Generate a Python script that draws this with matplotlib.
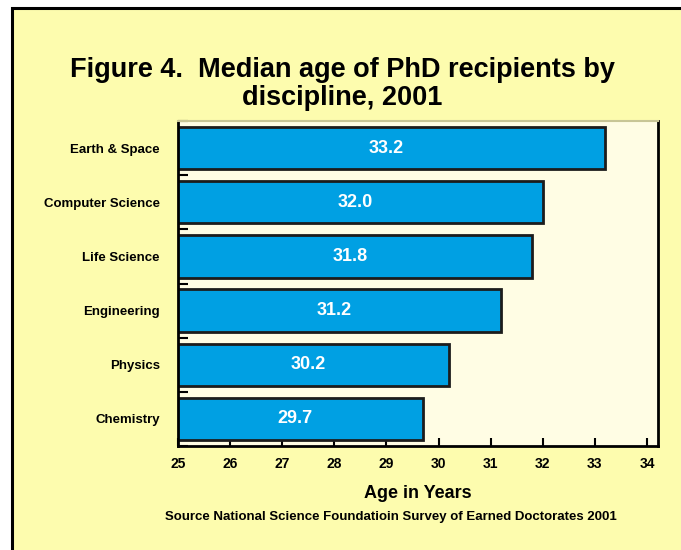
import matplotlib.pyplot as plt
from matplotlib.patches import Rectangle

# values from the 2001 chart, top bar first
disciplines = ['Earth & Space', 'Computer Science', 'Life Science',
               'Engineering', 'Physics', 'Chemistry']
median_age = [33.2, 32.0, 31.8, 31.2, 30.2, 29.7]
age_ticks = [25, 26, 27, 28, 29, 30, 31, 32, 33, 34]

plt.rcParams['font.family'] = ['Liberation Sans', 'DejaVu Sans']
plt.rcParams['font.weight'] = 'bold'

fig = plt.figure(figsize=(6.81, 5.5), dpi=100)
fig.patch.set_facecolor('white')

# yellow panel with black frame, its right and bottom edges run off the page
frame = Rectangle((12 / 681, -0.05), 1.1, 0.05 + (550 - 8) / 550,
                  transform=fig.transFigure, facecolor='#fdfcae',
                  edgecolor='black', linewidth=2.2, zorder=-5)
fig.patches.append(frame)

ax = fig.add_axes([178 / 681, (550 - 446) / 550, (658 - 178) / 681, (446 - 121) / 550])
ax.set_zorder(2)
ax.set_facecolor('#fffde4')

ypos = list(range(len(disciplines)))
bars = ax.barh(ypos, median_age, left=0, height=0.78, color='#00a0e3',
               edgecolor='#1c1c1c', linewidth=2.0, zorder=2)

for y, v in zip(ypos, median_age):
    ax.text((25 + v) / 2 - 0.1, y, f'{v:.1f}', color='white', fontsize=13,
            fontweight='bold', ha='center', va='center', zorder=3)

ax.set_xlim(25, 34.21)
ax.set_ylim(len(disciplines) - 0.5, -0.5)

ax.set_xticks(age_ticks)
ax.set_xticklabels([str(t) for t in age_ticks], fontsize=10, fontweight='bold')
ax.tick_params(axis='x', direction='in', length=6, width=1.5, pad=8)

ax.set_yticks(ypos)
ax.set_yticklabels(disciplines, fontsize=9.5, fontweight='bold')
ax.set_yticks([y - 0.5 for y in range(len(disciplines) + 1)], minor=True)
ax.tick_params(axis='y', which='major', length=0, pad=13)
ax.tick_params(axis='y', which='minor', direction='in', length=7, width=1.5)

for side in ['left', 'bottom', 'right']:
    ax.spines[side].set_linewidth(2.0)
    ax.spines[side].set_color('black')
ax.spines['top'].set_color('#c8c696')
ax.spines['top'].set_linewidth(1.5)

ax.set_xlabel('Age in Years', fontsize=13, fontweight='bold', labelpad=10)

fig.text(0.503, (550 - 57) / 550,
         'Figure 4.  Median age of PhD recipients by\ndiscipline, 2001',
         ha='center', va='top', fontsize=19.5, fontweight='bold', linespacing=1.12)

fig.text(391 / 681, (550 - 517) / 550,
         'Source National Science Foundatioin Survey of Earned Doctorates 2001',
         ha='center', va='center', fontsize=9.5, fontweight='bold')

fig.savefig('out.png', dpi=100, facecolor=fig.get_facecolor())
